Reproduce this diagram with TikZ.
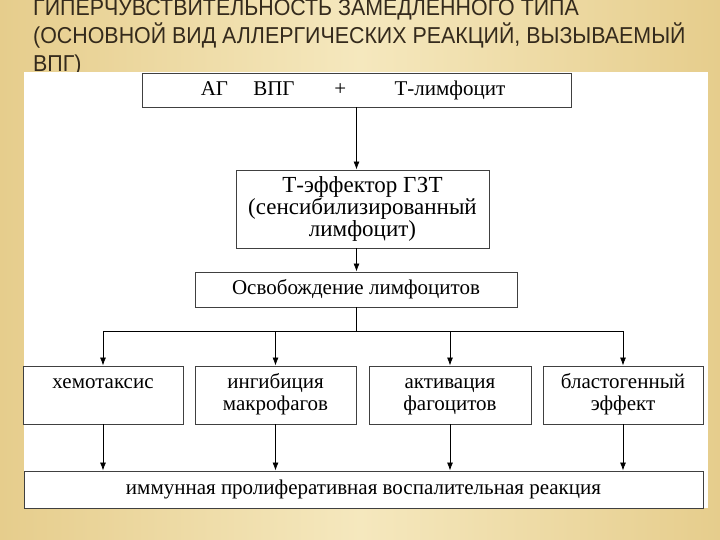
\documentclass[tikz,border=0pt]{standalone}
\usepackage{fontspec}
\setmainfont{Liberation Serif}
\newfontfamily\titlefont[FakeStretch=0.93]{Liberation Sans}
\usetikzlibrary{arrows.meta}
\definecolor{parch}{RGB}{245,232,190}
\definecolor{parchdark}{RGB}{230,205,140}
\definecolor{titlecol}{RGB}{52,42,28}
\tikzset{box/.style={draw=black!75, line width=.9pt, fill=white, align=center, inner sep=0pt, font=\fontsize{21}{22}\selectfont}}
\begin{document}
\begin{tikzpicture}[>={Latex[length=8pt,width=6pt]}, x=1pt, y=-1pt]
    \shade[left color=parchdark, right color=parchdark, middle color=parch](0,0) rectangle (720,540);
\useasboundingbox (0,0) rectangle (720,540);
\node[anchor=base west, align=left, inner sep=0pt, text=titlecol, font=\titlefont\fontsize{23}{28}\selectfont] (title) at (33,72) {ГИПЕРЧУВСТВИТЕЛЬНОСТЬ ЗАМЕДЛЕННОГО ТИПА\\(ОСНОВНОЙ ВИД АЛЛЕРГИЧЕСКИХ РЕАКЦИЙ, ВЫЗЫВАЕМЫЙ\\ВПГ)};
\fill[white](24,72) rectangle (708,508);
\node[box, minimum width=429, minimum height=34] (agent) at (356.5,90) {АГ\hspace{1.2em}ВПГ\hspace{1.9em}+\hspace{2.3em}Т-лимфоцит\hspace{7pt}};
\node[box, minimum width=253, minimum height=78, font=\fontsize{23}{22}\selectfont] (effector) at (362.5,209) {Т-эффектор ГЗТ\\(сенсибилизированный\\лимфоцит)};
\node[box, minimum width=322, minimum height=35] (release) at (356,289.5) {Освобождение лимфоцитов};
\node[box, minimum width=160, minimum height=58] (chemo) at (103,395) {\strut хемотаксис\\\strut};
\node[box, minimum width=161, minimum height=58] (inhib) at (275.5,395) {\strut ингибиция\\\strut макрофагов};
\node[box, minimum width=162, minimum height=58] (activ) at (450,395) {\strut активация\\\strut фагоцитов};
\node[box, minimum width=160, minimum height=58] (blast) at (623,395) {\strut бластогенный\\\strut эффект};
\node[box, minimum width=679, minimum height=37] (reaction) at (363.5,489.5) {иммунная пролиферативная воспалительная реакция};
\coordinate (fork) at (356,331);
\draw[line width=.8pt, ->](agent.south) -- (agent.south |- effector.north);
\draw[line width=.8pt, ->](agent.south |- effector.south) -- (agent.south |- release.north);
\draw[line width=.8pt](release.south) -- (fork);
\draw[line width=.8pt](fork -| chemo) -- (fork -| blast);
\foreach \b in {chemo,inhib,activ,blast}{
  \draw[line width=.8pt, ->](fork -| \b) -- (\b.north);
  \draw[line width=.8pt, ->](\b.south) -- (\b.south |- reaction.north);
}
\end{tikzpicture}
\end{document}
